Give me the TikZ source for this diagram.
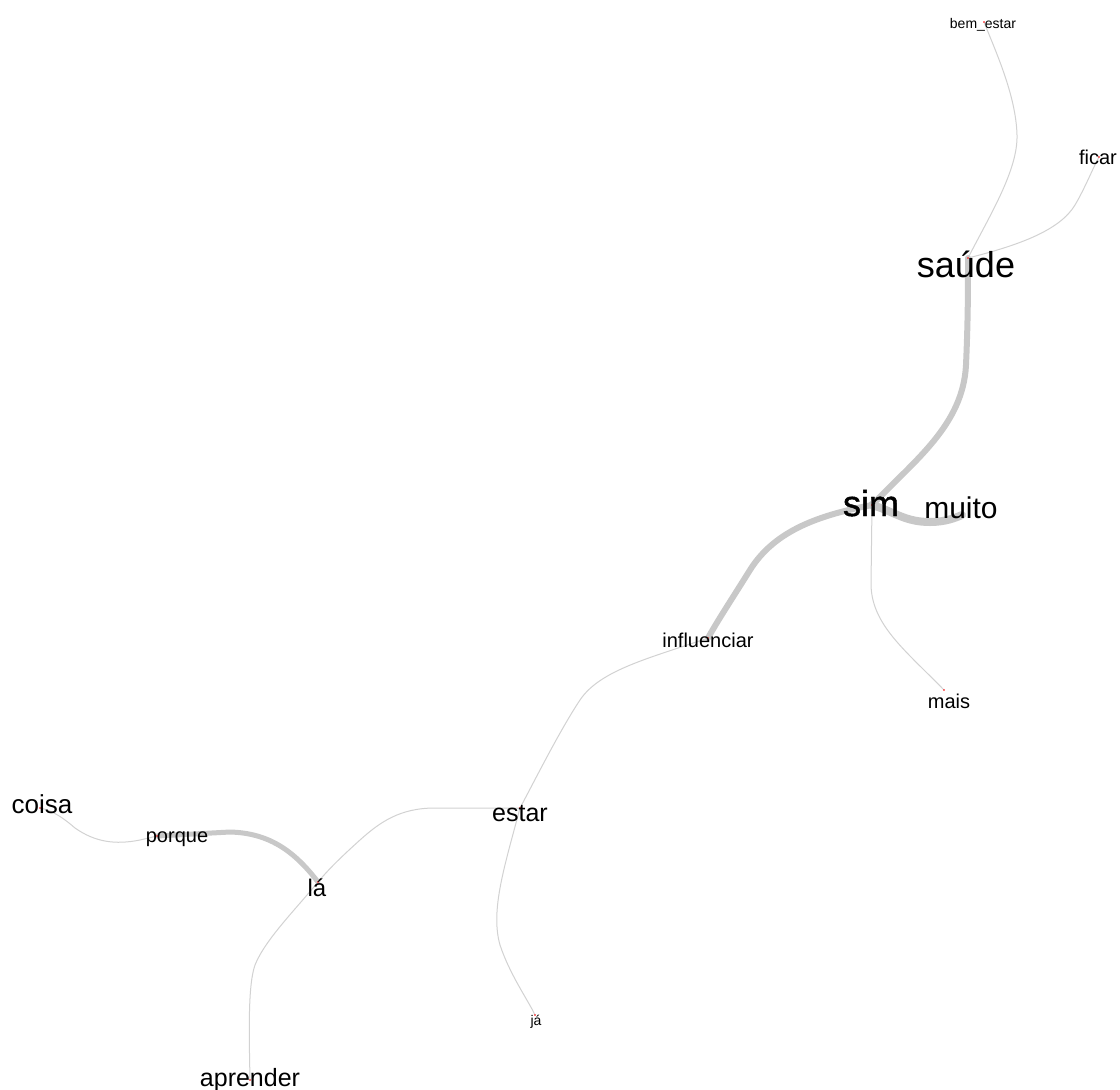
\documentclass[tikz,border=0pt]{standalone}
\usepackage{fontspec}
\setmainfont{Liberation Sans}
\newfontfamily\semibold[FakeBold=1.2]{Liberation Sans}
\definecolor{thinc}{HTML}{D2D2D2}
\definecolor{thickc}{HTML}{C8C8C8}
\newcommand{\fs}[1]{\fontsize{#1}{#1}\selectfont}
\begin{document}
\begin{tikzpicture}[x=1pt,y=-1pt,
  thinedge/.style={draw=thinc,line width=1pt},
  thickedge/.style={draw=thickc,line width=#1,line cap=round},
  lbl/.style={inner sep=0pt,anchor=base,text=black},
  vdot/.style={fill=red,draw=none}]
\path[fill=white,use as bounding box] (0,0) rectangle (1120,1090);
% vertex positions
\coordinate (bem) at (984,22);
\coordinate (ficar) at (1099,157);
\coordinate (saude) at (968,258);
\coordinate (sim) at (872,505);
\coordinate (muito) at (962,515);
\coordinate (infl) at (708,638);
\coordinate (mais) at (944,690);
\coordinate (estar) at (520,808);
\coordinate (ja) at (535,1015);
\coordinate (la) at (318,882);
\coordinate (porque) at (157,836);
\coordinate (coisa) at (40,808);
\coordinate (aprender) at (250,1080);
% edges
\draw[thinedge] (saude) .. controls (990,215) and (1018,170) .. (1017,135) .. controls (1016,95) and (995,50) .. (bem);
\draw[thinedge] (saude) .. controls (1020,245) and (1060,230) .. (1075,205) .. controls (1085,188) and (1092,170) .. (ficar);
\draw[thickedge=6pt] (sim) .. controls (915,460) and (963,425) .. (966,365) .. controls (968,320) and (968,290) .. (saude);
\draw[thickedge=8pt] (sim) .. controls (895,512) and (905,522) .. (930,522) .. controls (945,522) and (955,518) .. (muito);
\draw[thickedge=6pt] (sim) .. controls (820,515) and (775,530) .. (750,570) .. controls (730,602) and (718,620) .. (infl);
\draw[thinedge] (sim) -- (871,585) .. controls (872,625) and (905,650) .. (mais);
\draw[thinedge] (infl) .. controls (650,658) and (600,670) .. (580,700) .. controls (560,730) and (535,780) .. (estar);
\draw[thinedge] (estar) .. controls (505,865) and (490,910) .. (500,945) .. controls (510,975) and (528,1000) .. (ja);
\draw[thinedge] (estar) -- (435,808) .. controls (400,808) and (380,822) .. (360,840) .. controls (340,858) and (328,870) .. (la);
\draw[thickedge=5pt] (la) .. controls (295,852) and (270,833) .. (230,832) -- (porque);
\draw[thinedge] (porque) -- (140,840) .. controls (115,845) and (95,842) .. (75,828) .. controls (60,815) and (50,810) .. (coisa);
\draw[thinedge] (la) .. controls (295,910) and (265,940) .. (255,965) .. controls (248,985) and (249,1030) .. (aprender);
% vertex dots
\foreach \p in {bem,ficar,saude,sim,muito,infl,mais,estar,ja,la,porque,coisa,aprender}
  \fill[vdot] (\p) circle (0.9pt);
% labels
\node[lbl,font=\fs{14}] (tbem) at (983,28) {bem\_estar};
\node[lbl,font=\fs{20}] (tficar) at (1098,164) {ficar};
\node[lbl,font=\fs{36}] (tsaude) at (966,277) {saúde};
\node[lbl,font=\semibold\fs{36}] (tsim) at (871,516) {sim};
\node[lbl,font=\fs{30}] (tmuito) at (961,518) {muito};
\node[lbl,font=\fs{20}] (tinfl) at (708,647) {influenciar};
\node[lbl,font=\fs{20}] (tmais) at (949,708) {mais};
\node[lbl,font=\fs{25}] (testar) at (520,821) {estar};
\node[lbl,font=\fs{26}] (tcoisa) at (42,813) {coisa};
\node[lbl,font=\fs{20}] (tporque) at (177,842) {porque};
\node[lbl,font=\fs{24}] (tla) at (317,896) {lá};
\node[lbl,font=\fs{25}] (taprender) at (250,1086) {aprender};
\node[lbl,font=\fs{14}] (tja) at (536,1025) {já};
\end{tikzpicture}
\end{document}
